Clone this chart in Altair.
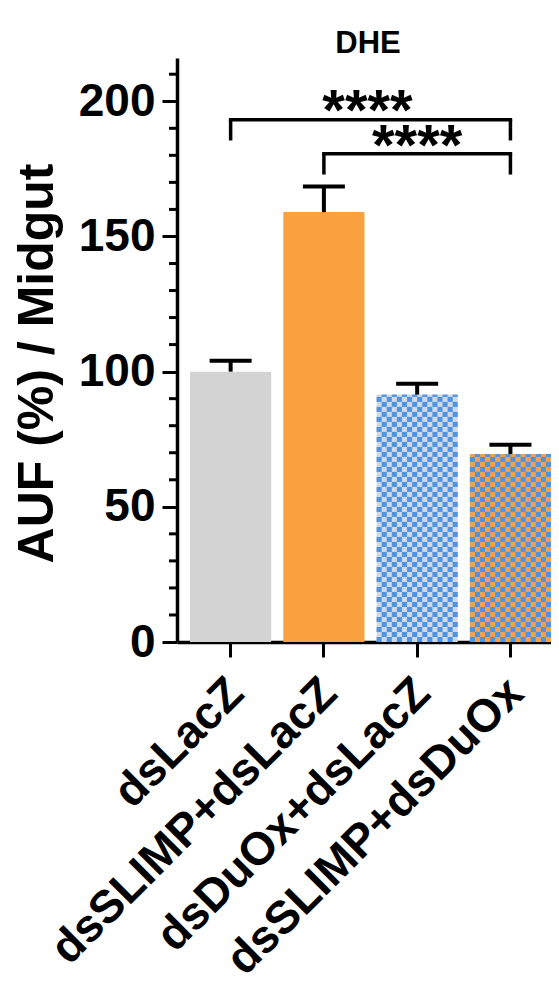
import math
import altair as alt
import pandas as pd

FONT = "Liberation Sans"

# ---- data ----
categories = ["dsLacZ", "dsSLIMP+dsLacZ", "dsDuOx+dsLacZ", "dsSLIMP+dsDuOx"]
means = [100.0, 159.0, 91.5, 69.5]
sems = [4.0, 9.5, 4.0, 3.5]
base_colors = ["#D3D3D3", "#F9A03F", "#D2D9E4", "#F3A14A"]
checkered = [False, False, True, True]
check_color = "#4D94E4"

y_major = [0, 50, 100, 150, 200]
y_minor = [10, 20, 30, 40, 60, 70, 80, 90, 110, 120, 130, 140, 160, 170, 180, 190, 210]

br_left = ["dsLacZ", "dsSLIMP+dsLacZ"]
br_right = ["dsSLIMP+dsDuOx", "dsSLIMP+dsDuOx"]
br_level = [193.2, 180.6]
br_leg = [185.5, 172.9]
star_y = [199.3, 186.4]
star_text = ["****", "****"]

# ---- tables ----
df = pd.DataFrame({"cat": categories, "mean": means,
                   "upper": [m + s for m, s in zip(means, sems)]})

# checker pattern cells (decoration of the two combination bars)
cell_h = 1.85
n_cols = 16
cells = []
for c, m, chk in zip(categories, means, checkered):
    if not chk:
        continue
    n_rows = int(math.ceil(m / cell_h))
    for r in range(n_rows):
        y0 = r * cell_h
        y1 = min((r + 1) * cell_h, m)
        for k in range(n_cols):
            if (r + k) % 2 == 0:
                cells.append({"cat": c, "col": k, "y0": y0, "y1": y1})
cells_df = pd.DataFrame(cells)

minor_df = pd.DataFrame({"v": y_minor})
br_df = pd.DataFrame({"left": br_left, "right": br_right, "level": br_level})
legs_df = pd.DataFrame({
    "cat": br_left + br_right,
    "level": br_level + br_level,
    "leg": br_leg + br_leg,
})
star1 = pd.DataFrame({"cat": ["dsSLIMP+dsLacZ"], "y": [star_y[0]], "t": [star_text[0]]})
star2 = pd.DataFrame({"cat": ["dsDuOx+dsLacZ"], "y": [star_y[1]], "t": [star_text[1]]})

xs = alt.Scale(domain=categories, paddingInner=0.13, paddingOuter=0.07, align=1)
ys = alt.Scale(domain=[0, 216], nice=False)

x_axis = alt.Axis(
    title=None, labelAngle=315, labelAlign="right", labelBaseline="top",
    labelFont=FONT, labelFontSize=46, labelFontWeight="bold", labelColor="black",
    labelPadding=13, labelOffset=-10, labelLimit=1000, labelOverlap=False,
    tickSize=15, tickWidth=3, tickColor="black",
    domainWidth=3.5, domainColor="black", grid=False,
)
y_axis = alt.Axis(
    values=y_major, grid=False,
    tickSize=15, tickWidth=3, tickColor="black",
    domainWidth=3.5, domainColor="black",
    labelFont=FONT, labelFontSize=46, labelFontWeight="bold", labelColor="black",
    labelPadding=7, labelFlush=False, labelOverlap=False, labelLimit=1000,
    title="AUF (%) / Midgut", titleFont=FONT, titleFontSize=50, titleFontWeight="bold",
    titleColor="black", titleX=-140, titleY=305, titleAngle=270,
    titleAlign="center", titleBaseline="middle",
)


def X(field, **kw):
    return alt.X(field, scale=xs, axis=x_axis, **kw)


def Y(field):
    return alt.Y(field, scale=ys, axis=y_axis)


bars = alt.Chart(df).mark_bar().encode(
    x=X("cat:N"),
    y=Y("mean:Q"),
    color=alt.Color("cat:N", scale=alt.Scale(domain=categories, range=base_colors), legend=None),
)

checks = alt.Chart(cells_df).mark_bar(color=check_color).encode(
    x=X("cat:N"),
    xOffset=alt.XOffset("col:O", scale=alt.Scale(paddingInner=0, paddingOuter=0)),
    y=Y("y0:Q"),
    y2="y1:Q",
)

err_line = alt.Chart(df).mark_rule(color="black", strokeWidth=4).encode(
    x=X("cat:N"),
    y=Y("mean:Q"),
    y2="upper:Q",
)
err_cap = alt.Chart(df).mark_tick(color="black", thickness=4, size=42, opacity=1).encode(
    x=X("cat:N"),
    y=Y("upper:Q"),
)

minor = alt.Chart(minor_df).mark_rule(color="black", strokeWidth=3).encode(
    x=alt.value(-8), x2=alt.value(0),
    y=Y("v:Q"),
)

br_h = alt.Chart(br_df).mark_rule(color="black", strokeWidth=3.5, strokeCap="square").encode(
    x=X("left:N"),
    x2="right:N",
    y=Y("level:Q"),
)
br_v = alt.Chart(legs_df).mark_rule(color="black", strokeWidth=3.5).encode(
    x=X("cat:N"),
    y=Y("level:Q"),
    y2="leg:Q",
)

txt_kw = dict(font=FONT, fontSize=58, fontWeight="bold", color="black",
              align="center", baseline="alphabetic", dy=27)
s1 = alt.Chart(star1).mark_text(dx=3, **txt_kw).encode(
    x=X("cat:N", bandPosition=1),
    y=Y("y:Q"),
    text="t:N",
)
s2 = alt.Chart(star2).mark_text(**txt_kw).encode(
    x=X("cat:N", bandPosition=0.5),
    y=Y("y:Q"),
    text="t:N",
)

chart = alt.layer(bars, checks, err_line, err_cap, minor, br_h, br_v, s1, s2).properties(
    width=374, height=584,
    padding={"left": 169, "right": 0, "top": 50, "bottom": 335},
    autosize=alt.AutoSizeParams(type="none"),
    title=alt.Title("DHE", font=FONT, fontSize=31, fontWeight="bold", color="black",
                    anchor="middle", frame="group", offset=2, baseline="alphabetic",
                    dx=4, dy=28),
    background="white",
).configure_view(stroke=None)

chart.save("out.html", embed_options={"renderer": "svg", "actions": False})
